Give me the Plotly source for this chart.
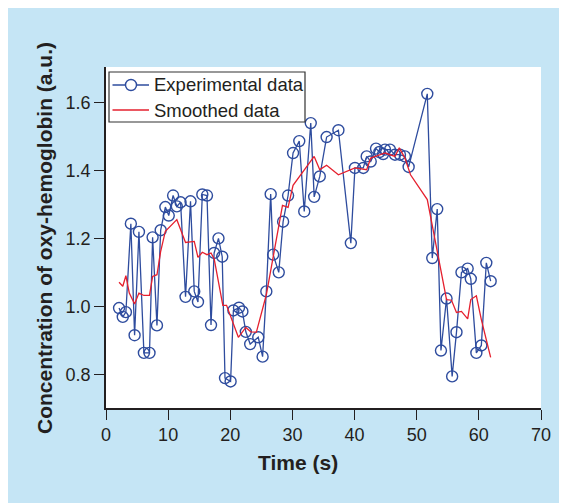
import plotly.graph_objects as go

# Experimental data
exp_time = [2.1, 2.7, 3.2, 4.0, 4.6, 5.3, 6.1, 7.0, 7.5, 8.2, 8.8, 9.55, 10.1, 10.8, 11.4, 12.0,
            12.8, 13.6, 14.2, 14.8, 15.5, 16.25, 16.9, 17.4, 18.1, 18.7, 19.15, 20.05, 20.5, 21.4,
            21.95, 22.5, 23.2, 24.5, 25.2, 25.8, 26.5, 26.9, 27.8, 28.5, 29.3, 30.1, 31.1, 31.9,
            32.95, 33.5, 34.4, 35.5, 37.4, 39.4, 40.06, 41.4, 41.95, 42.6, 43.45, 44.0, 44.6, 44.9,
            45.7, 46.5, 47.3, 48.1, 48.7, 51.7, 52.5, 53.3, 53.9, 54.8, 55.7, 56.4, 57.2, 58.2,
            58.7, 59.6, 60.4, 61.2, 61.9]
exp_conc = [0.995, 0.969, 0.983, 1.243, 0.915, 1.219, 0.863, 0.863, 1.203, 0.944, 1.224, 1.292,
            1.267, 1.326, 1.294, 1.306, 1.028, 1.309, 1.044, 1.013, 1.329, 1.326, 0.945, 1.157,
            1.200, 1.146, 0.789, 0.779, 0.988, 0.996, 0.985, 0.925, 0.889, 0.909, 0.852, 1.044,
            1.330, 1.152, 1.100, 1.249, 1.326, 1.451, 1.486, 1.279, 1.539, 1.322, 1.382, 1.498,
            1.518, 1.186, 1.407, 1.407, 1.441, 1.426, 1.464, 1.454, 1.448, 1.461, 1.461, 1.446,
            1.446, 1.441, 1.410, 1.625, 1.142, 1.286, 0.870, 1.023, 0.794, 0.924, 1.100, 1.111,
            1.081, 0.863, 0.885, 1.128, 1.074]

# Smoothed data
smooth_time = [2.1, 2.7, 3.2, 3.75, 4.6, 5.3, 6.1, 7.0, 7.5, 8.2, 8.8, 9.55, 11.4, 12.8, 14.2,
               14.8, 15.5, 16.25, 16.9, 17.4, 18.8, 19.4, 21.3, 22.5, 23.3, 24.2, 25.8, 26.9,
               28.4, 29.3, 30.1, 33.5, 34.4, 35.5, 37.4, 40.06, 41.95, 42.6, 44.0, 44.9, 46.5,
               47.2, 48.1, 49.0, 51.7, 54.8, 55.6, 56.4, 57.2, 58.2, 58.7, 59.6, 60.4, 61.9]
smooth_conc = [1.071, 1.059, 1.090, 1.039, 1.007, 1.039, 1.032, 1.032, 1.088, 1.093, 1.162, 1.221,
               1.255, 1.188, 1.191, 1.144, 1.159, 1.152, 1.157, 1.140, 1.003, 1.003, 0.909, 0.938,
               0.925, 0.924, 1.034, 1.147, 1.297, 1.291, 1.356, 1.441, 1.402, 1.415, 1.387, 1.407,
               1.402, 1.436, 1.446, 1.451, 1.441, 1.466, 1.436, 1.387, 1.314, 1.020, 1.018, 0.982,
               0.985, 0.963, 1.020, 1.031, 0.961, 0.850]

x_ticks = [0, 10, 20, 30, 40, 50, 60, 70]
y_ticks = [0.8, 1.0, 1.2, 1.4, 1.6]
y_tick_labels = ["0.8", "1.0", "1.2", "1.4", "1.6"]
series_names = ["Experimental data", "Smoothed data"]

FONT = "Liberation Sans, Arial, Helvetica, sans-serif"
INK = "#231F20"
BLUE = "#2E4C9E"
RED = "#E5202E"
BG = "#C5E5F5"

fig = go.Figure()
fig.add_trace(go.Scatter(
    x=exp_time, y=exp_conc, mode="lines+markers", name=series_names[0],
    line=dict(color=BLUE, width=1.3),
    marker=dict(symbol="circle-open", size=11, color=BLUE, line=dict(width=1.4, color=BLUE)),
))
fig.add_trace(go.Scatter(
    x=smooth_time, y=smooth_conc, mode="lines", name=series_names[1],
    line=dict(color=RED, width=1.3),
))

W, H = 567, 503
OFF = 8  # page body margin
L, R, T, B = 98, 34, 59, 103
pw, ph = W - L - R, H - T - B


def px_x(s):
    return (s - OFF - L) / pw


def px_y(s):
    return (H - B - (s - OFF)) / ph


# Legend (drawn as decoration, inside the plot's upper-left corner)
fig.add_shape(type="rect", xref="paper", yref="paper",
              x0=px_x(109), x1=px_x(305), y0=px_y(122), y1=px_y(72),
              fillcolor="white", line=dict(color="#333333", width=1.2))
fig.add_shape(type="line", xref="paper", yref="paper",
              x0=px_x(112.5), x1=px_x(149), y0=px_y(85), y1=px_y(85),
              line=dict(color=BLUE, width=1.3))
fig.add_shape(type="circle", xref="paper", yref="paper",
              x0=px_x(131 - 5.5), x1=px_x(131 + 5.5), y0=px_y(85 + 5.5), y1=px_y(85 - 5.5),
              fillcolor="white", line=dict(color=BLUE, width=1.4))
fig.add_shape(type="line", xref="paper", yref="paper",
              x0=px_x(112.5), x1=px_x(149), y0=px_y(110), y1=px_y(110),
              line=dict(color=RED, width=1.3))
for name, row_y in zip(series_names, [85, 110]):
    fig.add_annotation(text=name, xref="paper", yref="paper",
                       x=px_x(152), y=px_y(row_y), showarrow=False,
                       xanchor="left", yanchor="middle",
                       font=dict(family=FONT, size=18.5, color=INK))

fig.add_annotation(text="<b>Time (s)</b>", xref="paper", yref="paper",
                   x=px_x(298), y=px_y(462), showarrow=False,
                   font=dict(family=FONT, size=21, color=INK), xanchor="center", yanchor="middle")
fig.add_annotation(text="<b>Concentration of oxy-hemoglobin (a.u.)</b>", xref="paper", yref="paper",
                   x=px_x(44), y=px_y(238), showarrow=False, textangle=-90,
                   font=dict(family=FONT, size=21, color=INK), xanchor="center", yanchor="middle")

axis_common = dict(showgrid=False, zeroline=False, showline=True, linecolor=INK, linewidth=1.5,
                   ticks="outside", ticklen=10, tickwidth=1.3, tickcolor=INK,
                   tickfont=dict(family=FONT, size=18, color=INK), mirror=False)

fig.update_layout(
    width=W, height=H,
    margin=dict(l=L, r=R, t=T, b=B),
    paper_bgcolor=BG, plot_bgcolor="white",
    font=dict(family=FONT, color=INK),
    xaxis=dict(range=[0, 70], tickvals=x_ticks, **axis_common),
    yaxis=dict(range=[0.701, 1.704], tickvals=y_ticks, ticktext=y_tick_labels, **axis_common),
    showlegend=False,
)

fig.write_html("out.html")
